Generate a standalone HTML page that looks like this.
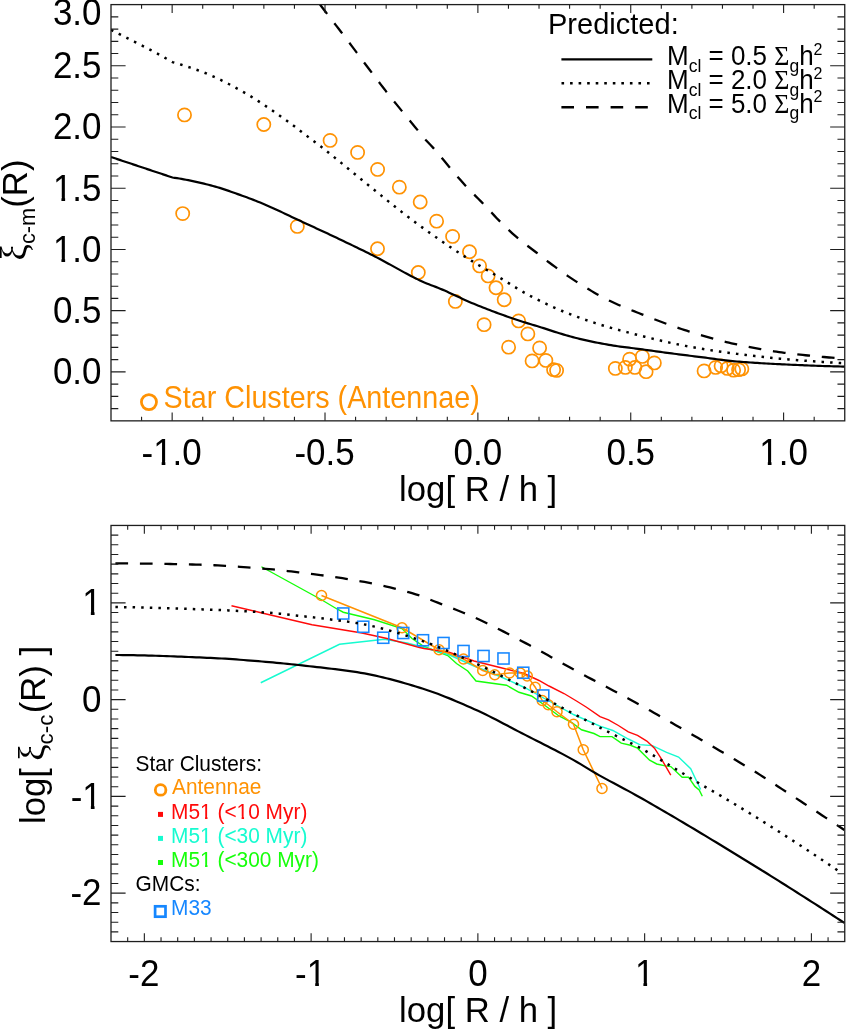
<!DOCTYPE html>
<html><head><meta charset="utf-8"><title>chart</title>
<style>html,body{margin:0;padding:0;background:#fff;}svg{display:block;will-change:transform}</style></head>
<body><svg width="847" height="1031" viewBox="0 0 847 1031">
<rect width="847" height="1031" fill="#fff"/>
<clipPath id="c1"><rect x="111.0" y="4.6" width="733.75" height="416.25"/></clipPath>
<clipPath id="c2"><rect x="111.0" y="525.45" width="733.75" height="416.0999999999999"/></clipPath>
<text transform="translate(52.94,384.18) scale(0.965,1)" font-family="Liberation Sans, sans-serif" font-size="36.2" fill="#000">0.0</text>
<text transform="translate(52.94,322.97) scale(0.965,1)" font-family="Liberation Sans, sans-serif" font-size="36.2" fill="#000">0.5</text>
<text transform="translate(52.94,261.75) scale(0.965,1)" font-family="Liberation Sans, sans-serif" font-size="36.2" fill="#000">1.0</text>
<rect x="53.99" y="258.45" width="7.44" height="4.10" fill="#fff"/>
<rect x="65.12" y="258.45" width="6.29" height="4.10" fill="#fff"/>
<text transform="translate(52.94,200.54) scale(0.965,1)" font-family="Liberation Sans, sans-serif" font-size="36.2" fill="#000">1.5</text>
<rect x="53.99" y="197.24" width="7.44" height="4.10" fill="#fff"/>
<rect x="65.12" y="197.24" width="6.29" height="4.10" fill="#fff"/>
<text transform="translate(52.94,139.33) scale(0.965,1)" font-family="Liberation Sans, sans-serif" font-size="36.2" fill="#000">2.0</text>
<text transform="translate(52.94,78.11) scale(0.965,1)" font-family="Liberation Sans, sans-serif" font-size="36.2" fill="#000">2.5</text>
<text transform="translate(52.94,25.00) scale(0.965,1)" font-family="Liberation Sans, sans-serif" font-size="36.2" fill="#000">3.0</text>
<text transform="translate(141.55,464.50) scale(0.965,1)" font-family="Liberation Sans, sans-serif" font-size="36.2" fill="#000">-1.0</text>
<rect x="154.23" y="461.20" width="7.44" height="4.10" fill="#fff"/>
<rect x="165.36" y="461.20" width="6.29" height="4.10" fill="#fff"/>
<text transform="translate(294.41,464.50) scale(0.965,1)" font-family="Liberation Sans, sans-serif" font-size="36.2" fill="#000">-0.5</text>
<text transform="translate(453.59,464.50) scale(0.965,1)" font-family="Liberation Sans, sans-serif" font-size="36.2" fill="#000">0.0</text>
<text transform="translate(606.46,464.50) scale(0.965,1)" font-family="Liberation Sans, sans-serif" font-size="36.2" fill="#000">0.5</text>
<text transform="translate(759.32,464.50) scale(0.965,1)" font-family="Liberation Sans, sans-serif" font-size="36.2" fill="#000">1.0</text>
<rect x="760.37" y="461.20" width="7.44" height="4.10" fill="#fff"/>
<rect x="771.50" y="461.20" width="6.29" height="4.10" fill="#fff"/>
<text transform="translate(399.07,500.80) scale(0.97,1)" font-family="Liberation Sans, sans-serif" font-size="35.8" fill="#000">log[ R / h ]</text>
<text transform="translate(26.7,260.5) rotate(-90) scale(0.97,1)" font-family="Liberation Sans, sans-serif" font-size="35.8"><tspan font-family="Liberation Serif, serif" font-size="38">ξ</tspan><tspan font-size="22.5" dy="8">c-m</tspan><tspan dy="-8">(R)</tspan></text>
<g fill="none" stroke="#FF9203" stroke-width="1.7">
<circle cx="184.5" cy="114.9" r="6.6"/>
<circle cx="182.7" cy="213.6" r="6.6"/>
<circle cx="263.8" cy="124.5" r="6.6"/>
<circle cx="330.1" cy="140.4" r="6.6"/>
<circle cx="357.6" cy="152.4" r="6.6"/>
<circle cx="377.6" cy="169.4" r="6.6"/>
<circle cx="399.35" cy="187.15" r="6.6"/>
<circle cx="420.2" cy="202" r="6.6"/>
<circle cx="297.3" cy="226.4" r="6.6"/>
<circle cx="377.5" cy="248.8" r="6.6"/>
<circle cx="436.6" cy="221.15" r="6.6"/>
<circle cx="452.6" cy="236.4" r="6.6"/>
<circle cx="469.5" cy="251.8" r="6.6"/>
<circle cx="479.6" cy="265.9" r="6.6"/>
<circle cx="488.1" cy="275.9" r="6.6"/>
<circle cx="496" cy="287.7" r="6.6"/>
<circle cx="504.2" cy="299.8" r="6.6"/>
<circle cx="455.35" cy="301.4" r="6.6"/>
<circle cx="484.1" cy="324.65" r="6.6"/>
<circle cx="518.6" cy="320.9" r="6.6"/>
<circle cx="527.85" cy="333.9" r="6.6"/>
<circle cx="508.6" cy="347.15" r="6.6"/>
<circle cx="539.6" cy="347.9" r="6.6"/>
<circle cx="532.1" cy="360.9" r="6.6"/>
<circle cx="545.85" cy="360.4" r="6.6"/>
<circle cx="553.6" cy="369.65" r="6.6"/>
<circle cx="556.6" cy="370.4" r="6.6"/>
<circle cx="615.35" cy="368.4" r="6.6"/>
<circle cx="625.35" cy="367.4" r="6.6"/>
<circle cx="629.6" cy="359.15" r="6.6"/>
<circle cx="634.85" cy="367.4" r="6.6"/>
<circle cx="418.3" cy="272.5" r="6.6"/>
<circle cx="642.35" cy="356.4" r="6.6"/>
<circle cx="646.1" cy="371.65" r="6.6"/>
<circle cx="654.35" cy="362.9" r="6.6"/>
<circle cx="704.1" cy="370.9" r="6.6"/>
<circle cx="715.6" cy="367.4" r="6.6"/>
<circle cx="721.1" cy="365.9" r="6.6"/>
<circle cx="727.35" cy="368.4" r="6.6"/>
<circle cx="733.6" cy="370.15" r="6.6"/>
<circle cx="738.6" cy="369.65" r="6.6"/>
<circle cx="741.85" cy="368.9" r="6.6"/>
</g>
<g clip-path="url(#c1)" fill="none" stroke="#000">
<path d="M111.00,157.00 L112.58,157.53 L114.15,158.05 L115.73,158.58 L117.31,159.10 L118.88,159.63 L120.46,160.15 L122.04,160.68 L123.62,161.21 L125.19,161.73 L126.77,162.26 L128.35,162.78 L129.92,163.31 L131.50,163.83 L133.08,164.36 L134.65,164.88 L136.23,165.41 L137.81,165.94 L139.38,166.46 L140.96,166.99 L142.54,167.51 L144.12,168.04 L145.69,168.56 L147.27,169.09 L148.85,169.62 L150.42,170.14 L152.00,170.67 L153.58,171.19 L155.15,171.72 L156.73,172.24 L158.31,172.77 L159.88,173.29 L161.46,173.82 L163.04,174.35 L164.62,174.87 L166.19,175.40 L167.77,175.92 L169.35,176.45 L170.92,176.97 L172.50,177.50 L174.75,177.82 L177.00,178.16 L179.25,178.52 L181.50,178.91 L183.75,179.31 L185.99,179.74 L188.24,180.18 L190.49,180.63 L192.74,181.11 L194.99,181.60 L197.24,182.10 L199.49,182.62 L201.74,183.15 L203.99,183.69 L206.24,184.24 L208.49,184.80 L210.74,185.38 L212.98,185.96 L215.23,186.57 L217.48,187.23 L219.73,187.91 L221.98,188.63 L224.23,189.37 L226.48,190.13 L228.73,190.90 L230.98,191.69 L233.23,192.49 L235.48,193.29 L237.73,194.09 L239.97,194.89 L242.22,195.69 L244.47,196.51 L246.72,197.33 L248.97,198.17 L251.22,199.02 L253.47,199.88 L255.72,200.76 L257.97,201.66 L260.22,202.57 L262.47,203.49 L264.72,204.44 L266.96,205.41 L269.21,206.40 L271.46,207.41 L273.71,208.43 L275.96,209.46 L278.21,210.51 L280.46,211.56 L282.71,212.63 L284.96,213.69 L287.21,214.76 L289.46,215.83 L291.71,216.90 L293.95,217.97 L296.20,219.03 L298.45,220.08 L300.70,221.12 L302.95,222.16 L305.20,223.20 L307.45,224.24 L309.70,225.28 L311.95,226.31 L314.20,227.35 L316.45,228.39 L318.70,229.43 L320.94,230.47 L323.19,231.52 L325.44,232.56 L327.69,233.61 L329.94,234.67 L332.19,235.72 L334.44,236.79 L336.69,237.85 L338.94,238.92 L341.19,239.99 L343.44,241.07 L345.69,242.14 L347.93,243.22 L350.18,244.30 L352.43,245.38 L354.68,246.47 L356.93,247.56 L359.18,248.66 L361.43,249.76 L363.68,250.86 L365.93,251.97 L368.18,253.08 L370.43,254.20 L372.68,255.33 L374.92,256.46 L377.17,257.62 L379.42,258.79 L381.67,259.99 L383.92,261.20 L386.17,262.43 L388.42,263.66 L390.67,264.91 L392.92,266.16 L395.17,267.41 L397.42,268.66 L399.67,269.91 L401.91,271.15 L404.16,272.38 L406.41,273.59 L408.66,274.79 L410.91,275.97 L413.16,277.13 L415.41,278.26 L417.66,279.37 L419.91,280.44 L422.16,281.48 L424.41,282.48 L426.66,283.42 L428.90,284.32 L431.15,285.18 L433.40,286.02 L435.65,286.87 L437.90,287.75 L440.15,288.66 L442.40,289.62 L444.65,290.60 L446.90,291.60 L449.15,292.63 L451.40,293.67 L453.65,294.71 L455.89,295.77 L458.14,296.82 L460.39,297.87 L462.64,298.91 L464.89,299.94 L467.14,300.96 L469.39,301.95 L471.64,302.92 L473.89,303.85 L476.14,304.77 L478.39,305.68 L480.64,306.57 L482.88,307.46 L485.13,308.34 L487.38,309.22 L489.63,310.08 L491.88,310.94 L494.13,311.78 L496.38,312.62 L498.63,313.45 L500.88,314.27 L503.13,315.08 L505.38,315.89 L507.63,316.68 L509.87,317.47 L512.12,318.25 L514.37,319.01 L516.62,319.77 L518.87,320.52 L521.12,321.25 L523.37,321.96 L525.62,322.65 L527.87,323.33 L530.12,324.01 L532.37,324.68 L534.62,325.35 L536.86,326.03 L539.11,326.72 L541.36,327.43 L543.61,328.16 L545.86,328.90 L548.11,329.64 L550.36,330.38 L552.61,331.12 L554.86,331.85 L557.11,332.55 L559.36,333.24 L561.61,333.91 L563.85,334.57 L566.10,335.23 L568.35,335.87 L570.60,336.50 L572.85,337.12 L575.10,337.71 L577.35,338.29 L579.60,338.84 L581.85,339.38 L584.10,339.91 L586.35,340.42 L588.60,340.92 L590.84,341.41 L593.09,341.88 L595.34,342.33 L597.59,342.77 L599.84,343.20 L602.09,343.63 L604.34,344.04 L606.59,344.43 L608.84,344.82 L611.09,345.19 L613.34,345.55 L615.59,345.90 L617.83,346.23 L620.08,346.54 L622.33,346.85 L624.58,347.14 L626.83,347.42 L629.08,347.70 L631.33,347.98 L633.58,348.26 L635.83,348.55 L638.08,348.83 L640.33,349.13 L642.58,349.43 L644.82,349.74 L647.07,350.05 L649.32,350.36 L651.57,350.67 L653.82,350.99 L656.07,351.30 L658.32,351.61 L660.57,351.92 L662.82,352.24 L665.07,352.54 L667.32,352.85 L669.57,353.15 L671.81,353.45 L674.06,353.74 L676.31,354.03 L678.56,354.32 L680.81,354.61 L683.06,354.89 L685.31,355.18 L687.56,355.46 L689.81,355.74 L692.06,356.02 L694.31,356.29 L696.56,356.57 L698.80,356.85 L701.05,357.13 L703.30,357.42 L705.55,357.71 L707.80,358.01 L710.05,358.32 L712.30,358.62 L714.55,358.92 L716.80,359.22 L719.05,359.52 L721.30,359.81 L723.55,360.09 L725.79,360.36 L728.04,360.62 L730.29,360.86 L732.54,361.09 L734.79,361.30 L737.04,361.49 L739.29,361.67 L741.54,361.85 L743.79,362.02 L746.04,362.19 L748.29,362.35 L750.54,362.51 L752.78,362.66 L755.03,362.81 L757.28,362.96 L759.53,363.10 L761.78,363.24 L764.03,363.37 L766.28,363.50 L768.53,363.62 L770.78,363.75 L773.03,363.87 L775.28,363.98 L777.53,364.10 L779.77,364.21 L782.02,364.32 L784.27,364.42 L786.52,364.52 L788.77,364.63 L791.02,364.73 L793.27,364.83 L795.52,364.92 L797.77,365.02 L800.02,365.12 L802.27,365.21 L804.52,365.30 L806.76,365.39 L809.01,365.48 L811.26,365.57 L813.51,365.66 L815.76,365.74 L818.01,365.82 L820.26,365.90 L822.51,365.98 L824.76,366.05 L827.01,366.12 L829.26,366.19 L831.51,366.26 L833.75,366.32 L836.00,366.38 L838.25,366.44 L840.50,366.50 L842.75,366.55 L845.00,366.60" stroke-width="2.2"/>
<path d="M111.00,29.90 L112.58,30.68 L114.15,31.46 L115.73,32.24 L117.31,33.03 L118.88,33.81 L120.46,34.60 L122.04,35.39 L123.62,36.18 L125.19,36.97 L126.77,37.77 L128.35,38.57 L129.92,39.37 L131.50,40.17 L133.08,40.97 L134.65,41.77 L136.23,42.58 L137.81,43.38 L139.38,44.19 L140.96,44.99 L142.54,45.80 L144.12,46.61 L145.69,47.42 L147.27,48.24 L148.85,49.06 L150.42,49.88 L152.00,50.71 L153.58,51.54 L155.15,52.38 L156.73,53.23 L158.31,54.08 L159.88,54.95 L161.46,55.82 L163.04,56.70 L164.62,57.58 L166.19,58.47 L167.77,59.37 L169.35,60.28 L170.92,61.19 L172.50,62.10 L174.75,62.74 L177.00,63.39 L179.25,64.06 L181.50,64.75 L183.75,65.46 L185.99,66.18 L188.24,66.92 L190.49,67.67 L192.74,68.43 L194.99,69.22 L197.24,70.02 L199.49,70.84 L201.74,71.69 L203.99,72.56 L206.24,73.46 L208.49,74.39 L210.74,75.35 L212.98,76.33 L215.23,77.35 L217.48,78.38 L219.73,79.44 L221.98,80.53 L224.23,81.65 L226.48,82.81 L228.73,84.00 L230.98,85.21 L233.23,86.44 L235.48,87.67 L237.73,88.90 L239.97,90.15 L242.22,91.41 L244.47,92.68 L246.72,93.98 L248.97,95.30 L251.22,96.66 L253.47,98.04 L255.72,99.46 L257.97,100.90 L260.22,102.37 L262.47,103.85 L264.72,105.34 L266.96,106.85 L269.21,108.36 L271.46,109.90 L273.71,111.45 L275.96,113.02 L278.21,114.59 L280.46,116.18 L282.71,117.78 L284.96,119.39 L287.21,121.02 L289.46,122.66 L291.71,124.32 L293.95,125.99 L296.20,127.69 L298.45,129.42 L300.70,131.16 L302.95,132.91 L305.20,134.64 L307.45,136.37 L309.70,138.07 L311.95,139.75 L314.20,141.43 L316.45,143.13 L318.70,144.84 L320.94,146.58 L323.19,148.34 L325.44,150.12 L327.69,151.91 L329.94,153.72 L332.19,155.53 L334.44,157.36 L336.69,159.19 L338.94,161.03 L341.19,162.87 L343.44,164.72 L345.69,166.58 L347.93,168.43 L350.18,170.29 L352.43,172.14 L354.68,173.99 L356.93,175.84 L359.18,177.68 L361.43,179.51 L363.68,181.34 L365.93,183.16 L368.18,184.97 L370.43,186.78 L372.68,188.60 L374.92,190.42 L377.17,192.25 L379.42,194.08 L381.67,195.90 L383.92,197.73 L386.17,199.55 L388.42,201.37 L390.67,203.19 L392.92,205.00 L395.17,206.80 L397.42,208.59 L399.67,210.37 L401.91,212.14 L404.16,213.89 L406.41,215.63 L408.66,217.36 L410.91,219.06 L413.16,220.75 L415.41,222.42 L417.66,224.08 L419.91,225.73 L422.16,227.37 L424.41,229.00 L426.66,230.62 L428.90,232.24 L431.15,233.84 L433.40,235.43 L435.65,237.01 L437.90,238.59 L440.15,240.15 L442.40,241.70 L444.65,243.25 L446.90,244.78 L449.15,246.30 L451.40,247.81 L453.65,249.31 L455.89,250.80 L458.14,252.28 L460.39,253.75 L462.64,255.20 L464.89,256.65 L467.14,258.07 L469.39,259.47 L471.64,260.86 L473.89,262.24 L476.14,263.60 L478.39,264.95 L480.64,266.29 L482.88,267.63 L485.13,268.96 L487.38,270.29 L489.63,271.62 L491.88,272.95 L494.13,274.29 L496.38,275.63 L498.63,276.98 L500.88,278.34 L503.13,279.72 L505.38,281.11 L507.63,282.50 L509.87,283.91 L512.12,285.30 L514.37,286.70 L516.62,288.07 L518.87,289.44 L521.12,290.78 L523.37,292.09 L525.62,293.37 L527.87,294.62 L530.12,295.82 L532.37,297.00 L534.62,298.16 L536.86,299.31 L539.11,300.44 L541.36,301.55 L543.61,302.65 L545.86,303.73 L548.11,304.79 L550.36,305.84 L552.61,306.86 L554.86,307.87 L557.11,308.85 L559.36,309.82 L561.61,310.77 L563.85,311.69 L566.10,312.60 L568.35,313.49 L570.60,314.37 L572.85,315.23 L575.10,316.08 L577.35,316.91 L579.60,317.73 L581.85,318.53 L584.10,319.33 L586.35,320.10 L588.60,320.87 L590.84,321.62 L593.09,322.36 L595.34,323.09 L597.59,323.81 L599.84,324.51 L602.09,325.20 L604.34,325.88 L606.59,326.55 L608.84,327.21 L611.09,327.86 L613.34,328.50 L615.59,329.13 L617.83,329.75 L620.08,330.36 L622.33,330.96 L624.58,331.56 L626.83,332.15 L629.08,332.74 L631.33,333.31 L633.58,333.89 L635.83,334.46 L638.08,335.03 L640.33,335.60 L642.58,336.16 L644.82,336.73 L647.07,337.29 L649.32,337.85 L651.57,338.40 L653.82,338.96 L656.07,339.50 L658.32,340.04 L660.57,340.57 L662.82,341.10 L665.07,341.62 L667.32,342.13 L669.57,342.64 L671.81,343.13 L674.06,343.62 L676.31,344.09 L678.56,344.55 L680.81,345.00 L683.06,345.44 L685.31,345.87 L687.56,346.29 L689.81,346.70 L692.06,347.10 L694.31,347.49 L696.56,347.88 L698.80,348.26 L701.05,348.64 L703.30,349.01 L705.55,349.37 L707.80,349.73 L710.05,350.08 L712.30,350.43 L714.55,350.77 L716.80,351.10 L719.05,351.43 L721.30,351.76 L723.55,352.07 L725.79,352.39 L728.04,352.70 L730.29,353.00 L732.54,353.30 L734.79,353.59 L737.04,353.88 L739.29,354.17 L741.54,354.45 L743.79,354.73 L746.04,355.01 L748.29,355.29 L750.54,355.56 L752.78,355.82 L755.03,356.09 L757.28,356.34 L759.53,356.60 L761.78,356.85 L764.03,357.10 L766.28,357.34 L768.53,357.58 L770.78,357.81 L773.03,358.04 L775.28,358.26 L777.53,358.48 L779.77,358.69 L782.02,358.90 L784.27,359.10 L786.52,359.30 L788.77,359.49 L791.02,359.67 L793.27,359.85 L795.52,360.03 L797.77,360.21 L800.02,360.38 L802.27,360.54 L804.52,360.71 L806.76,360.87 L809.01,361.03 L811.26,361.18 L813.51,361.33 L815.76,361.49 L818.01,361.64 L820.26,361.79 L822.51,361.93 L824.76,362.08 L827.01,362.23 L829.26,362.38 L831.51,362.52 L833.75,362.67 L836.00,362.82 L838.25,362.97 L840.50,363.11 L842.75,363.26 L845.00,363.40" stroke-width="2.5" stroke-dasharray="2.5 6.1"/>
<path d="M320.00,4.50 L322.64,8.00 L325.28,11.49 L327.91,14.94 L330.55,18.36 L333.19,21.75 L335.83,25.13 L338.47,28.52 L341.11,31.93 L343.74,35.38 L346.38,38.86 L349.02,42.36 L351.66,45.88 L354.30,49.40 L356.93,52.91 L359.57,56.43 L362.21,59.96 L364.85,63.49 L367.49,67.02 L370.13,70.52 L372.76,74.01 L375.40,77.47 L378.04,80.93 L380.68,84.37 L383.32,87.78 L385.95,91.17 L388.59,94.52 L391.23,97.83 L393.87,101.11 L396.51,104.38 L399.15,107.63 L401.78,110.87 L404.42,114.11 L407.06,117.32 L409.70,120.52 L412.34,123.71 L414.97,126.92 L417.61,130.14 L420.25,133.43 L422.89,136.69 L425.53,139.72 L428.17,142.54 L430.80,145.29 L433.44,148.13 L436.08,151.13 L438.72,154.24 L441.36,157.41 L443.99,160.60 L446.63,163.79 L449.27,166.94 L451.91,170.04 L454.55,173.15 L457.19,176.26 L459.82,179.32 L462.46,182.34 L465.10,185.27 L467.74,188.10 L470.38,190.83 L473.02,193.49 L475.65,196.11 L478.29,198.73 L480.93,201.38 L483.57,204.08 L486.21,206.86 L488.84,209.70 L491.48,212.55 L494.12,215.40 L496.76,218.19 L499.40,220.90 L502.04,223.51 L504.67,226.10 L507.31,228.64 L509.95,231.13 L512.59,233.56 L515.23,235.92 L517.86,238.21 L520.50,240.41 L523.14,242.51 L525.78,244.53 L528.42,246.52 L531.06,248.49 L533.69,250.47 L536.33,252.48 L538.97,254.56 L541.61,256.67 L544.25,258.76 L546.88,260.79 L549.52,262.77 L552.16,264.74 L554.80,266.69 L557.44,268.63 L560.08,270.54 L562.71,272.43 L565.35,274.29 L567.99,276.11 L570.63,277.90 L573.27,279.66 L575.90,281.37 L578.54,283.05 L581.18,284.71 L583.82,286.35 L586.46,287.97 L589.10,289.57 L591.73,291.13 L594.37,292.67 L597.01,294.18 L599.65,295.64 L602.29,297.07 L604.92,298.45 L607.56,299.79 L610.20,301.08 L612.84,302.32 L615.48,303.52 L618.12,304.69 L620.75,305.82 L623.39,306.92 L626.03,308.00 L628.67,309.07 L631.31,310.13 L633.94,311.18 L636.58,312.23 L639.22,313.28 L641.86,314.33 L644.50,315.38 L647.14,316.42 L649.77,317.45 L652.41,318.48 L655.05,319.50 L657.69,320.52 L660.33,321.52 L662.96,322.51 L665.60,323.48 L668.24,324.45 L670.88,325.40 L673.52,326.33 L676.16,327.25 L678.79,328.15 L681.43,329.03 L684.07,329.89 L686.71,330.72 L689.35,331.55 L691.98,332.37 L694.62,333.19 L697.26,333.99 L699.90,334.79 L702.54,335.57 L705.18,336.35 L707.81,337.11 L710.45,337.86 L713.09,338.59 L715.73,339.31 L718.37,340.02 L721.01,340.70 L723.64,341.37 L726.28,342.02 L728.92,342.66 L731.56,343.27 L734.20,343.86 L736.83,344.43 L739.47,344.98 L742.11,345.53 L744.75,346.07 L747.39,346.60 L750.03,347.12 L752.66,347.63 L755.30,348.12 L757.94,348.61 L760.58,349.08 L763.22,349.54 L765.85,349.99 L768.49,350.43 L771.13,350.86 L773.77,351.27 L776.41,351.67 L779.05,352.05 L781.68,352.42 L784.32,352.78 L786.96,353.12 L789.60,353.45 L792.24,353.77 L794.87,354.08 L797.51,354.39 L800.15,354.68 L802.79,354.96 L805.43,355.24 L808.07,355.51 L810.70,355.77 L813.34,356.03 L815.98,356.28 L818.62,356.53 L821.26,356.78 L823.89,357.02 L826.53,357.25 L829.17,357.49 L831.81,357.72 L834.45,357.95 L837.09,358.18 L839.72,358.39 L842.36,358.60 L845.00,358.80" stroke-width="2.3000000000000003" stroke-dasharray="12.8 11.8" stroke-dashoffset="1"/>
</g>
<circle cx="148.95" cy="402.1" r="7.55" fill="none" stroke="#FF9203" stroke-width="2.75"/>
<text transform="translate(163.60,408.30) scale(0.921,1)" font-family="Liberation Sans, sans-serif" font-size="31.2" fill="#FF9203">Star Clusters (Antennae)</text>
<text transform="translate(548.00,33.75) scale(0.968,1)" font-family="Liberation Sans, sans-serif" font-size="30" fill="#000">Predicted:</text>
<path d="M561.4,59.35 H652.3" stroke="#000" stroke-width="2.45"/>
<path d="M561.5,83.2 H652" stroke="#000" stroke-width="2.6" stroke-dasharray="2.6 5.95"/>
<path d="M561.4,107.25 H648" stroke="#000" stroke-width="2.45" stroke-dasharray="12.6 12"/>
<text transform="translate(667,65.4) scale(0.942,1)" font-family="Liberation Sans, sans-serif" font-size="27.6">M<tspan font-size="18.6" dy="6.2">cl</tspan><tspan dy="-6.2"> = 0.5 </tspan><tspan font-family="Liberation Serif, serif">Σ</tspan><tspan font-size="18.6" dy="6.2">g</tspan><tspan dy="-6.2">h</tspan><tspan font-size="17" dy="-10.6">2</tspan></text>
<text transform="translate(667,89.3) scale(0.942,1)" font-family="Liberation Sans, sans-serif" font-size="27.6">M<tspan font-size="18.6" dy="6.2">cl</tspan><tspan dy="-6.2"> = 2.0 </tspan><tspan font-family="Liberation Serif, serif">Σ</tspan><tspan font-size="18.6" dy="6.2">g</tspan><tspan dy="-6.2">h</tspan><tspan font-size="17" dy="-10.6">2</tspan></text>
<text transform="translate(667,113.0) scale(0.942,1)" font-family="Liberation Sans, sans-serif" font-size="27.6">M<tspan font-size="18.6" dy="6.2">cl</tspan><tspan dy="-6.2"> = 5.0 </tspan><tspan font-family="Liberation Serif, serif">Σ</tspan><tspan font-size="18.6" dy="6.2">g</tspan><tspan dy="-6.2">h</tspan><tspan font-size="17" dy="-10.6">2</tspan></text>
<rect x="111.0" y="4.6" width="733.75" height="416.25" fill="none" stroke="#1e1e1e" stroke-width="1.3"/>
<path d="M172.15,420.85 v-8.3 M172.15,4.6 v8.3 M325.01,420.85 v-8.3 M325.01,4.6 v8.3 M477.88,420.85 v-8.3 M477.88,4.6 v8.3 M630.74,420.85 v-8.3 M630.74,4.6 v8.3 M783.60,420.85 v-8.3 M783.60,4.6 v8.3 M141.57,420.85 v-4.2 M141.57,4.6 v4.2 M202.72,420.85 v-4.2 M202.72,4.6 v4.2 M233.29,420.85 v-4.2 M233.29,4.6 v4.2 M263.86,420.85 v-4.2 M263.86,4.6 v4.2 M294.44,420.85 v-4.2 M294.44,4.6 v4.2 M355.58,420.85 v-4.2 M355.58,4.6 v4.2 M386.16,420.85 v-4.2 M386.16,4.6 v4.2 M416.73,420.85 v-4.2 M416.73,4.6 v4.2 M447.30,420.85 v-4.2 M447.30,4.6 v4.2 M508.45,420.85 v-4.2 M508.45,4.6 v4.2 M539.02,420.85 v-4.2 M539.02,4.6 v4.2 M569.59,420.85 v-4.2 M569.59,4.6 v4.2 M600.17,420.85 v-4.2 M600.17,4.6 v4.2 M661.31,420.85 v-4.2 M661.31,4.6 v4.2 M691.89,420.85 v-4.2 M691.89,4.6 v4.2 M722.46,420.85 v-4.2 M722.46,4.6 v4.2 M753.03,420.85 v-4.2 M753.03,4.6 v4.2 M814.18,420.85 v-4.2 M814.18,4.6 v4.2 " stroke="#1e1e1e" stroke-width="1.1" fill="none"/>
<path d="M111.0,371.88 h14.6 M844.75,371.88 h-14.6 M111.0,310.67 h14.6 M844.75,310.67 h-14.6 M111.0,249.45 h14.6 M844.75,249.45 h-14.6 M111.0,188.24 h14.6 M844.75,188.24 h-14.6 M111.0,127.03 h14.6 M844.75,127.03 h-14.6 M111.0,65.81 h14.6 M844.75,65.81 h-14.6 M111.0,408.61 h7.3 M844.75,408.61 h-7.3 M111.0,396.36 h7.3 M844.75,396.36 h-7.3 M111.0,384.12 h7.3 M844.75,384.12 h-7.3 M111.0,359.64 h7.3 M844.75,359.64 h-7.3 M111.0,347.39 h7.3 M844.75,347.39 h-7.3 M111.0,335.15 h7.3 M844.75,335.15 h-7.3 M111.0,322.91 h7.3 M844.75,322.91 h-7.3 M111.0,298.42 h7.3 M844.75,298.42 h-7.3 M111.0,286.18 h7.3 M844.75,286.18 h-7.3 M111.0,273.94 h7.3 M844.75,273.94 h-7.3 M111.0,261.70 h7.3 M844.75,261.70 h-7.3 M111.0,237.21 h7.3 M844.75,237.21 h-7.3 M111.0,224.97 h7.3 M844.75,224.97 h-7.3 M111.0,212.72 h7.3 M844.75,212.72 h-7.3 M111.0,200.48 h7.3 M844.75,200.48 h-7.3 M111.0,176.00 h7.3 M844.75,176.00 h-7.3 M111.0,163.75 h7.3 M844.75,163.75 h-7.3 M111.0,151.51 h7.3 M844.75,151.51 h-7.3 M111.0,139.27 h7.3 M844.75,139.27 h-7.3 M111.0,114.78 h7.3 M844.75,114.78 h-7.3 M111.0,102.54 h7.3 M844.75,102.54 h-7.3 M111.0,90.30 h7.3 M844.75,90.30 h-7.3 M111.0,78.06 h7.3 M844.75,78.06 h-7.3 M111.0,53.57 h7.3 M844.75,53.57 h-7.3 M111.0,41.33 h7.3 M844.75,41.33 h-7.3 M111.0,29.09 h7.3 M844.75,29.09 h-7.3 M111.0,16.84 h7.3 M844.75,16.84 h-7.3 " stroke="#1e1e1e" stroke-width="1.1" fill="none"/>
<text transform="translate(70.44,905.47) scale(0.965,1)" font-family="Liberation Sans, sans-serif" font-size="36.2" fill="#000">-2</text>
<text transform="translate(70.74,808.70) scale(0.965,1)" font-family="Liberation Sans, sans-serif" font-size="36.2" fill="#000">-1</text>
<rect x="83.42" y="805.39" width="7.44" height="4.10" fill="#fff"/>
<rect x="94.55" y="805.39" width="6.29" height="4.10" fill="#fff"/>
<text transform="translate(82.07,711.93) scale(0.965,1)" font-family="Liberation Sans, sans-serif" font-size="36.2" fill="#000">0</text>
<text transform="translate(82.37,615.16) scale(0.965,1)" font-family="Liberation Sans, sans-serif" font-size="36.2" fill="#000">1</text>
<rect x="83.42" y="611.86" width="7.44" height="4.10" fill="#fff"/>
<rect x="94.55" y="611.86" width="6.29" height="4.10" fill="#fff"/>
<text transform="translate(128.32,985.50) scale(0.965,1)" font-family="Liberation Sans, sans-serif" font-size="36.2" fill="#000">-2</text>
<text transform="translate(295.08,985.50) scale(0.965,1)" font-family="Liberation Sans, sans-serif" font-size="36.2" fill="#000">-1</text>
<rect x="307.76" y="982.20" width="7.44" height="4.10" fill="#fff"/>
<rect x="318.89" y="982.20" width="6.29" height="4.10" fill="#fff"/>
<text transform="translate(468.16,985.50) scale(0.965,1)" font-family="Liberation Sans, sans-serif" font-size="36.2" fill="#000">0</text>
<text transform="translate(634.92,985.50) scale(0.965,1)" font-family="Liberation Sans, sans-serif" font-size="36.2" fill="#000">1</text>
<rect x="635.97" y="982.20" width="7.44" height="4.10" fill="#fff"/>
<rect x="647.10" y="982.20" width="6.29" height="4.10" fill="#fff"/>
<text transform="translate(801.68,985.50) scale(0.965,1)" font-family="Liberation Sans, sans-serif" font-size="36.2" fill="#000">2</text>
<text transform="translate(399.07,1021.80) scale(0.97,1)" font-family="Liberation Sans, sans-serif" font-size="35.8" fill="#000">log[ R / h ]</text>
<text transform="translate(45,824) rotate(-90) scale(0.97,1)" font-family="Liberation Sans, sans-serif" font-size="35.8">log[ <tspan font-family="Liberation Serif, serif" font-size="38" dx="-2.5">ξ</tspan><tspan font-size="23" dy="8">c-c</tspan><tspan dy="-8" dx="1.4">(R) ]</tspan></text>
<g clip-path="url(#c2)" fill="none">
<path d="M261.40,566.75 L321.50,599.75 L337.00,609.00 L343.25,612.25 L374.50,619.75 L402.00,628.50 L412.00,638.50 L424.00,646.50 L447.75,655.50 L456.50,663.50 L467.75,671.00 L476.00,681.00 L506.50,685.25 L519.00,692.25 L531.50,696.00 L544.00,704.75 L559.00,716.00 L571.50,722.25 L581.50,729.75 L594.00,733.50 L600.00,736.60 L612.00,736.60 L621.30,743.20 L630.50,745.30 L637.50,748.20 L649.60,760.20 L656.70,764.00 L665.20,765.90 L670.80,766.60 L682.20,777.20 L688.50,777.20 L694.90,786.40 L699.20,790.00 L702.30,796.30" stroke="#16FF0A" stroke-width="1.42"/>
<path d="M260.75,682.75 L339.50,644.25 L384.50,639.25 L407.00,643.00 L424.00,647.50 L449.00,654.75 L474.00,666.00 L499.00,676.00 L524.00,687.25 L549.00,701.00 L574.00,714.75 L600.00,726.20 L612.80,730.50 L628.30,739.00 L639.70,744.60 L652.40,745.60 L666.60,752.40 L678.60,757.00 L690.70,768.70 L700.60,789.50" stroke="#16FBD0" stroke-width="1.42"/>
<path d="M231.50,605.70 L262.00,613.00 L312.00,624.75 L362.00,633.00 L387.00,638.50 L419.50,647.50 L424.00,648.50 L449.00,652.25 L474.00,661.00 L499.00,667.25 L524.00,673.50 L539.00,680.50 L549.00,686.00 L564.00,693.50 L576.50,701.00 L586.50,707.25 L600.00,716.70 L608.50,719.80 L618.40,725.50 L628.30,731.90 L637.50,735.40 L646.80,741.10 L654.50,748.20 L660.90,758.10 L670.80,775.10" stroke="#FF0A0A" stroke-width="1.42"/>
<path d="M321.50,595.50 L402.00,627.75 L439.00,649.75 L463.50,659.00 L482.75,670.50 L494.75,674.75 L509.50,673.00 L520.25,673.00 L527.25,676.00 L535.25,687.25 L542.25,700.50 L548.25,704.75 L557.00,711.75 L573.50,724.25 L583.25,749.75 L602.00,788.50" stroke="#FF9203" stroke-width="1.52"/>
<circle cx="321.5" cy="595.5" r="5.05" stroke="#FF9203" stroke-width="1.5"/>
<circle cx="402" cy="627.75" r="5.05" stroke="#FF9203" stroke-width="1.5"/>
<circle cx="439" cy="649.75" r="5.05" stroke="#FF9203" stroke-width="1.5"/>
<circle cx="463.5" cy="659" r="5.05" stroke="#FF9203" stroke-width="1.5"/>
<circle cx="482.75" cy="670.5" r="5.05" stroke="#FF9203" stroke-width="1.5"/>
<circle cx="494.75" cy="674.75" r="5.05" stroke="#FF9203" stroke-width="1.5"/>
<circle cx="509.5" cy="673" r="5.05" stroke="#FF9203" stroke-width="1.5"/>
<circle cx="520.25" cy="673" r="5.05" stroke="#FF9203" stroke-width="1.5"/>
<circle cx="527.25" cy="676" r="5.05" stroke="#FF9203" stroke-width="1.5"/>
<circle cx="535.25" cy="687.25" r="5.05" stroke="#FF9203" stroke-width="1.5"/>
<circle cx="542.25" cy="700.5" r="5.05" stroke="#FF9203" stroke-width="1.5"/>
<circle cx="548.25" cy="704.75" r="5.05" stroke="#FF9203" stroke-width="1.5"/>
<circle cx="557" cy="711.75" r="5.05" stroke="#FF9203" stroke-width="1.5"/>
<circle cx="573.5" cy="724.25" r="5.05" stroke="#FF9203" stroke-width="1.5"/>
<circle cx="583.25" cy="749.75" r="5.05" stroke="#FF9203" stroke-width="1.5"/>
<circle cx="602" cy="788.5" r="5.05" stroke="#FF9203" stroke-width="1.5"/>
<rect x="337.7" y="607.95" width="11.1" height="11.1" stroke="#1687FF" stroke-width="1.55"/>
<rect x="357.7" y="621.2" width="11.1" height="11.1" stroke="#1687FF" stroke-width="1.55"/>
<rect x="377.7" y="632.2" width="11.1" height="11.1" stroke="#1687FF" stroke-width="1.55"/>
<rect x="397.7" y="627.45" width="11.1" height="11.1" stroke="#1687FF" stroke-width="1.55"/>
<rect x="417.45" y="634.7" width="11.1" height="11.1" stroke="#1687FF" stroke-width="1.55"/>
<rect x="437.95" y="637.45" width="11.1" height="11.1" stroke="#1687FF" stroke-width="1.55"/>
<rect x="457.95" y="645.45" width="11.1" height="11.1" stroke="#1687FF" stroke-width="1.55"/>
<rect x="477.95" y="650.45" width="11.1" height="11.1" stroke="#1687FF" stroke-width="1.55"/>
<rect x="497.95" y="652.95" width="11.1" height="11.1" stroke="#1687FF" stroke-width="1.55"/>
<rect x="517.7" y="667.2" width="11.1" height="11.1" stroke="#1687FF" stroke-width="1.55"/>
<rect x="537.7" y="689.95" width="11.1" height="11.1" stroke="#1687FF" stroke-width="1.55"/>
<path d="M115.40,655.00 L119.06,655.02 L122.73,655.06 L126.39,655.10 L130.05,655.16 L133.71,655.22 L137.38,655.29 L141.04,655.37 L144.70,655.46 L148.37,655.55 L152.03,655.66 L155.69,655.76 L159.35,655.88 L163.02,656.00 L166.68,656.13 L170.34,656.26 L174.01,656.39 L177.67,656.54 L181.33,656.68 L184.99,656.83 L188.66,656.98 L192.32,657.13 L195.98,657.29 L199.64,657.45 L203.31,657.61 L206.97,657.78 L210.63,657.94 L214.30,658.11 L217.96,658.29 L221.62,658.50 L225.28,658.72 L228.95,658.95 L232.61,659.20 L236.27,659.46 L239.94,659.73 L243.60,660.01 L247.26,660.30 L250.92,660.59 L254.59,660.89 L258.25,661.19 L261.91,661.49 L265.58,661.80 L269.24,662.12 L272.90,662.45 L276.56,662.79 L280.23,663.14 L283.89,663.50 L287.55,663.86 L291.22,664.24 L294.88,664.62 L298.54,665.01 L302.20,665.41 L305.87,665.81 L309.53,666.22 L313.19,666.63 L316.85,667.05 L320.52,667.46 L324.18,667.87 L327.84,668.29 L331.51,668.72 L335.17,669.16 L338.83,669.62 L342.49,670.09 L346.16,670.58 L349.82,671.09 L353.48,671.63 L357.15,672.20 L360.81,672.80 L364.47,673.43 L368.13,674.12 L371.80,674.85 L375.46,675.63 L379.12,676.45 L382.79,677.32 L386.45,678.22 L390.11,679.15 L393.77,680.12 L397.44,681.12 L401.10,682.15 L404.76,683.20 L408.43,684.28 L412.09,685.38 L415.75,686.50 L419.41,687.64 L423.08,688.79 L426.74,689.97 L430.40,691.20 L434.06,692.49 L437.73,693.83 L441.39,695.22 L445.05,696.65 L448.72,698.12 L452.38,699.63 L456.04,701.16 L459.70,702.72 L463.37,704.31 L467.03,705.91 L470.69,707.53 L474.36,709.16 L478.02,710.83 L481.68,712.55 L485.34,714.32 L489.01,716.13 L492.67,717.97 L496.33,719.85 L500.00,721.75 L503.66,723.66 L507.32,725.59 L510.98,727.51 L514.65,729.44 L518.31,731.36 L521.97,733.26 L525.64,735.14 L529.30,737.00 L532.96,738.86 L536.62,740.72 L540.29,742.57 L543.95,744.43 L547.61,746.29 L551.27,748.16 L554.94,750.06 L558.60,751.97 L562.26,753.90 L565.93,755.86 L569.59,757.85 L573.25,759.88 L576.91,761.97 L580.58,764.15 L584.24,766.38 L587.90,768.62 L591.57,770.85 L595.23,773.02 L598.89,775.11 L602.55,777.15 L606.22,779.15 L609.88,781.12 L613.54,783.08 L617.21,785.02 L620.87,786.97 L624.53,788.92 L628.19,790.90 L631.86,792.89 L635.52,794.93 L639.18,797.00 L642.85,799.07 L646.51,801.16 L650.17,803.25 L653.83,805.36 L657.50,807.47 L661.16,809.60 L664.82,811.73 L668.48,813.87 L672.15,816.02 L675.81,818.17 L679.47,820.34 L683.14,822.51 L686.80,824.68 L690.46,826.87 L694.12,829.05 L697.79,831.25 L701.45,833.45 L705.11,835.66 L708.78,837.87 L712.44,840.08 L716.10,842.30 L719.76,844.53 L723.43,846.75 L727.09,848.98 L730.75,851.22 L734.42,853.45 L738.08,855.69 L741.74,857.94 L745.40,860.19 L749.07,862.44 L752.73,864.70 L756.39,866.97 L760.06,869.24 L763.72,871.52 L767.38,873.80 L771.04,876.08 L774.71,878.38 L778.37,880.67 L782.03,882.98 L785.69,885.28 L789.36,887.59 L793.02,889.91 L796.68,892.24 L800.35,894.56 L804.01,896.90 L807.67,899.23 L811.33,901.58 L815.00,903.93 L818.66,906.28 L822.32,908.64 L825.99,911.00 L829.65,913.37 L833.31,915.75 L836.97,918.13 L840.64,920.51 L844.30,922.90" stroke="#000" stroke-width="2.2"/>
<path d="M115.40,607.00 L119.05,607.05 L122.70,607.11 L126.35,607.18 L130.00,607.25 L133.65,607.32 L137.30,607.40 L140.95,607.49 L144.60,607.57 L148.25,607.67 L151.90,607.76 L155.55,607.86 L159.20,607.96 L162.85,608.07 L166.50,608.18 L170.15,608.29 L173.80,608.41 L177.45,608.53 L181.10,608.65 L184.75,608.77 L188.41,608.90 L192.06,609.02 L195.71,609.15 L199.36,609.28 L203.01,609.42 L206.66,609.55 L210.31,609.69 L213.96,609.82 L217.61,609.97 L221.26,610.11 L224.91,610.26 L228.56,610.42 L232.21,610.59 L235.86,610.76 L239.51,610.94 L243.16,611.13 L246.81,611.33 L250.46,611.53 L254.11,611.75 L257.76,611.97 L261.41,612.21 L265.06,612.46 L268.71,612.74 L272.36,613.04 L276.01,613.37 L279.66,613.71 L283.31,614.07 L286.96,614.44 L290.61,614.83 L294.26,615.23 L297.91,615.64 L301.56,616.05 L305.21,616.47 L308.86,616.89 L312.51,617.31 L316.16,617.73 L319.81,618.15 L323.46,618.57 L327.11,619.00 L330.76,619.44 L334.42,619.89 L338.07,620.35 L341.72,620.84 L345.37,621.34 L349.02,621.87 L352.67,622.43 L356.32,623.02 L359.97,623.64 L363.62,624.30 L367.27,625.02 L370.92,625.79 L374.57,626.62 L378.22,627.51 L381.87,628.44 L385.52,629.42 L389.17,630.44 L392.82,631.49 L396.47,632.58 L400.12,633.71 L403.77,634.86 L407.42,636.03 L411.07,637.23 L414.72,638.44 L418.37,639.67 L422.02,640.91 L425.67,642.17 L429.32,643.48 L432.97,644.85 L436.62,646.28 L440.27,647.75 L443.92,649.27 L447.57,650.82 L451.22,652.41 L454.87,654.02 L458.52,655.66 L462.17,657.31 L465.82,658.97 L469.47,660.64 L473.12,662.30 L476.77,663.97 L480.43,665.67 L484.08,667.40 L487.73,669.15 L491.38,670.92 L495.03,672.72 L498.68,674.53 L502.33,676.36 L505.98,678.20 L509.63,680.05 L513.28,681.91 L516.93,683.78 L520.58,685.65 L524.23,687.52 L527.88,689.40 L531.53,691.31 L535.18,693.23 L538.83,695.17 L542.48,697.12 L546.13,699.09 L549.78,701.05 L553.43,703.02 L557.08,704.99 L560.73,706.95 L564.38,708.91 L568.03,710.85 L571.68,712.78 L575.33,714.70 L578.98,716.61 L582.63,718.52 L586.28,720.42 L589.93,722.33 L593.58,724.23 L597.23,726.13 L600.88,728.02 L604.53,729.90 L608.18,731.78 L611.83,733.65 L615.48,735.51 L619.13,737.36 L622.78,739.20 L626.44,741.02 L630.09,742.83 L633.74,744.57 L637.39,746.43 L641.04,748.39 L644.69,750.42 L648.34,752.50 L651.99,754.64 L655.64,756.81 L659.29,759.01 L662.94,761.23 L666.59,763.47 L670.24,765.71 L673.89,767.94 L677.54,770.16 L681.19,772.36 L684.84,774.57 L688.49,776.80 L692.14,779.04 L695.79,781.27 L699.44,783.48 L703.09,785.64 L706.74,787.76 L710.39,789.84 L714.04,791.92 L717.69,794.03 L721.34,796.18 L724.99,798.34 L728.64,800.51 L732.29,802.70 L735.94,804.89 L739.59,807.09 L743.24,809.31 L746.89,811.54 L750.54,813.78 L754.19,816.04 L757.84,818.31 L761.49,820.60 L765.14,822.90 L768.79,825.20 L772.45,827.51 L776.10,829.84 L779.75,832.17 L783.40,834.51 L787.05,836.86 L790.70,839.21 L794.35,841.58 L798.00,843.96 L801.65,846.34 L805.30,848.74 L808.95,851.15 L812.60,853.57 L816.25,855.99 L819.90,858.43 L823.55,860.88 L827.20,863.34 L830.85,865.81 L834.50,868.30 L838.15,870.79 L841.80,873.30" stroke="#000" stroke-width="2.5" stroke-dasharray="2.5 6.1"/>
<path d="M115.40,563.40 L119.06,563.40 L122.73,563.41 L126.39,563.43 L130.05,563.45 L133.71,563.48 L137.38,563.51 L141.04,563.55 L144.70,563.59 L148.37,563.64 L152.03,563.70 L155.69,563.75 L159.35,563.81 L163.02,563.88 L166.68,563.95 L170.34,564.02 L174.01,564.10 L177.67,564.18 L181.33,564.26 L184.99,564.35 L188.66,564.43 L192.32,564.52 L195.98,564.61 L199.64,564.71 L203.31,564.81 L206.97,564.93 L210.63,565.07 L214.30,565.23 L217.96,565.41 L221.62,565.60 L225.28,565.82 L228.95,566.04 L232.61,566.28 L236.27,566.53 L239.94,566.79 L243.60,567.06 L247.26,567.34 L250.92,567.62 L254.59,567.91 L258.25,568.20 L261.91,568.49 L265.58,568.80 L269.24,569.12 L272.90,569.47 L276.56,569.83 L280.23,570.21 L283.89,570.61 L287.55,571.02 L291.22,571.44 L294.88,571.87 L298.54,572.32 L302.20,572.77 L305.87,573.23 L309.53,573.69 L313.19,574.15 L316.85,574.62 L320.52,575.10 L324.18,575.59 L327.84,576.09 L331.51,576.60 L335.17,577.12 L338.83,577.66 L342.49,578.22 L346.16,578.79 L349.82,579.38 L353.48,579.99 L357.15,580.63 L360.81,581.28 L364.47,581.96 L368.13,582.66 L371.80,583.38 L375.46,584.13 L379.12,584.90 L382.79,585.70 L386.45,586.53 L390.11,587.38 L393.77,588.27 L397.44,589.19 L401.10,590.14 L404.76,591.13 L408.43,592.16 L412.09,593.22 L415.75,594.33 L419.41,595.47 L423.08,596.79 L426.74,598.30 L430.40,599.81 L434.06,601.25 L437.73,602.68 L441.39,604.10 L445.05,605.51 L448.72,606.92 L452.38,608.35 L456.04,609.78 L459.70,611.24 L463.37,612.73 L467.03,614.25 L470.69,615.80 L474.36,617.41 L478.02,619.06 L481.68,620.76 L485.34,622.49 L489.01,624.26 L492.67,626.07 L496.33,627.90 L500.00,629.75 L503.66,631.63 L507.32,633.52 L510.98,635.43 L514.65,637.35 L518.31,639.27 L521.97,641.19 L525.64,643.11 L529.30,645.06 L532.96,647.03 L536.62,649.03 L540.29,651.05 L543.95,653.08 L547.61,655.12 L551.27,657.16 L554.94,659.21 L558.60,661.26 L562.26,663.30 L565.93,665.33 L569.59,667.35 L573.25,669.34 L576.91,671.32 L580.58,673.29 L584.24,675.24 L587.90,677.18 L591.57,679.12 L595.23,681.05 L598.89,682.97 L602.55,684.90 L606.22,686.82 L609.88,688.75 L613.54,690.68 L617.21,692.62 L620.87,694.57 L624.53,696.52 L628.19,698.49 L631.86,700.47 L635.52,702.47 L639.18,704.49 L642.85,706.51 L646.51,708.55 L650.17,710.60 L653.83,712.66 L657.50,714.72 L661.16,716.79 L664.82,718.87 L668.48,720.96 L672.15,723.05 L675.81,725.15 L679.47,727.25 L683.14,729.35 L686.80,731.46 L690.46,733.57 L694.12,735.69 L697.79,737.81 L701.45,739.94 L705.11,742.08 L708.78,744.22 L712.44,746.36 L716.10,748.52 L719.76,750.67 L723.43,752.84 L727.09,755.00 L730.75,757.18 L734.42,759.36 L738.08,761.54 L741.74,763.72 L745.40,765.91 L749.07,768.12 L752.73,770.34 L756.39,772.59 L760.06,774.87 L763.72,777.20 L767.38,779.55 L771.04,781.92 L774.71,784.31 L778.37,786.71 L782.03,789.11 L785.69,791.50 L789.36,793.88 L793.02,796.26 L796.68,798.65 L800.35,801.04 L804.01,803.43 L807.67,805.83 L811.33,808.23 L815.00,810.63 L818.66,813.03 L822.32,815.44 L825.99,817.85 L829.65,820.27 L833.31,822.70 L836.97,825.13 L840.64,827.56 L844.30,830.00" stroke="#000" stroke-width="2.3000000000000003" stroke-dasharray="12.7 11.8"/>
</g>
<text transform="translate(135.60,770.50) scale(0.98,1)" font-family="Liberation Sans, sans-serif" font-size="21.3" fill="#000">Star Clusters:</text>
<circle cx="160.6" cy="789.9" r="5.3" fill="none" stroke="#FF9203" stroke-width="2.8"/>
<text transform="translate(172.00,794.40) scale(0.98,1)" font-family="Liberation Sans, sans-serif" font-size="21.3" fill="#FF9203">Antennae</text>
<rect x="158.0" y="811.9" width="5" height="5" fill="#FF0A0A"/>
<text transform="translate(171.10,818.65) scale(0.98,1)" font-family="Liberation Sans, sans-serif" font-size="21.3" fill="#FF0A0A">M51 (&lt;10 Myr)</text>
<rect x="200.72" y="816.46" width="4.32" height="2.99" fill="#fff"/>
<rect x="207.49" y="816.46" width="3.76" height="2.99" fill="#fff"/>
<rect x="237.27" y="816.46" width="4.32" height="2.99" fill="#fff"/>
<rect x="244.04" y="816.46" width="3.76" height="2.99" fill="#fff"/>
<rect x="158.0" y="835.9" width="5" height="5" fill="#16FBD0"/>
<text transform="translate(171.10,842.65) scale(0.98,1)" font-family="Liberation Sans, sans-serif" font-size="21.3" fill="#16FBD0">M51 (&lt;30 Myr)</text>
<rect x="200.72" y="840.46" width="4.32" height="2.99" fill="#fff"/>
<rect x="207.49" y="840.46" width="3.76" height="2.99" fill="#fff"/>
<rect x="158.0" y="860.0" width="5" height="5" fill="#16FF0A"/>
<text transform="translate(171.10,866.75) scale(0.98,1)" font-family="Liberation Sans, sans-serif" font-size="21.3" fill="#16FF0A">M51 (&lt;300 Myr)</text>
<rect x="200.72" y="864.56" width="4.32" height="2.99" fill="#fff"/>
<rect x="207.49" y="864.56" width="3.76" height="2.99" fill="#fff"/>
<text transform="translate(135.60,890.60) scale(0.98,1)" font-family="Liberation Sans, sans-serif" font-size="21.3" fill="#000">GMCs:</text>
<rect x="155.1" y="906.3" width="10.4" height="10.4" fill="none" stroke="#1687FF" stroke-width="2.7"/>
<text transform="translate(171.10,914.70) scale(0.98,1)" font-family="Liberation Sans, sans-serif" font-size="21.3" fill="#1687FF">M33</text>
<rect x="111.0" y="525.45" width="733.75" height="416.0999999999999" fill="none" stroke="#1e1e1e" stroke-width="1.3"/>
<path d="M144.35,941.55 v-8.3 M144.35,525.45 v8.3 M311.11,941.55 v-8.3 M311.11,525.45 v8.3 M477.88,941.55 v-8.3 M477.88,525.45 v8.3 M644.64,941.55 v-8.3 M644.64,525.45 v8.3 M811.40,941.55 v-8.3 M811.40,525.45 v8.3 M127.68,941.55 v-4.2 M127.68,525.45 v4.2 M161.03,941.55 v-4.2 M161.03,525.45 v4.2 M177.70,941.55 v-4.2 M177.70,525.45 v4.2 M194.38,941.55 v-4.2 M194.38,525.45 v4.2 M211.06,941.55 v-4.2 M211.06,525.45 v4.2 M227.73,941.55 v-4.2 M227.73,525.45 v4.2 M244.41,941.55 v-4.2 M244.41,525.45 v4.2 M261.09,941.55 v-4.2 M261.09,525.45 v4.2 M277.76,941.55 v-4.2 M277.76,525.45 v4.2 M294.44,941.55 v-4.2 M294.44,525.45 v4.2 M327.79,941.55 v-4.2 M327.79,525.45 v4.2 M344.47,941.55 v-4.2 M344.47,525.45 v4.2 M361.14,941.55 v-4.2 M361.14,525.45 v4.2 M377.82,941.55 v-4.2 M377.82,525.45 v4.2 M394.49,941.55 v-4.2 M394.49,525.45 v4.2 M411.17,941.55 v-4.2 M411.17,525.45 v4.2 M427.85,941.55 v-4.2 M427.85,525.45 v4.2 M444.52,941.55 v-4.2 M444.52,525.45 v4.2 M461.20,941.55 v-4.2 M461.20,525.45 v4.2 M494.55,941.55 v-4.2 M494.55,525.45 v4.2 M511.23,941.55 v-4.2 M511.23,525.45 v4.2 M527.90,941.55 v-4.2 M527.90,525.45 v4.2 M544.58,941.55 v-4.2 M544.58,525.45 v4.2 M561.26,941.55 v-4.2 M561.26,525.45 v4.2 M577.93,941.55 v-4.2 M577.93,525.45 v4.2 M594.61,941.55 v-4.2 M594.61,525.45 v4.2 M611.28,941.55 v-4.2 M611.28,525.45 v4.2 M627.96,941.55 v-4.2 M627.96,525.45 v4.2 M661.31,941.55 v-4.2 M661.31,525.45 v4.2 M677.99,941.55 v-4.2 M677.99,525.45 v4.2 M694.66,941.55 v-4.2 M694.66,525.45 v4.2 M711.34,941.55 v-4.2 M711.34,525.45 v4.2 M728.02,941.55 v-4.2 M728.02,525.45 v4.2 M744.69,941.55 v-4.2 M744.69,525.45 v4.2 M761.37,941.55 v-4.2 M761.37,525.45 v4.2 M778.05,941.55 v-4.2 M778.05,525.45 v4.2 M794.72,941.55 v-4.2 M794.72,525.45 v4.2 M828.07,941.55 v-4.2 M828.07,525.45 v4.2 " stroke="#1e1e1e" stroke-width="1.1" fill="none"/>
<path d="M111.0,893.17 h14.6 M844.75,893.17 h-14.6 M111.0,796.40 h14.6 M844.75,796.40 h-14.6 M111.0,699.63 h14.6 M844.75,699.63 h-14.6 M111.0,602.86 h14.6 M844.75,602.86 h-14.6 M111.0,931.87 h7.3 M844.75,931.87 h-7.3 M111.0,922.20 h7.3 M844.75,922.20 h-7.3 M111.0,912.52 h7.3 M844.75,912.52 h-7.3 M111.0,902.84 h7.3 M844.75,902.84 h-7.3 M111.0,883.49 h7.3 M844.75,883.49 h-7.3 M111.0,873.81 h7.3 M844.75,873.81 h-7.3 M111.0,864.14 h7.3 M844.75,864.14 h-7.3 M111.0,854.46 h7.3 M844.75,854.46 h-7.3 M111.0,844.78 h7.3 M844.75,844.78 h-7.3 M111.0,835.11 h7.3 M844.75,835.11 h-7.3 M111.0,825.43 h7.3 M844.75,825.43 h-7.3 M111.0,815.75 h7.3 M844.75,815.75 h-7.3 M111.0,806.08 h7.3 M844.75,806.08 h-7.3 M111.0,786.72 h7.3 M844.75,786.72 h-7.3 M111.0,777.05 h7.3 M844.75,777.05 h-7.3 M111.0,767.37 h7.3 M844.75,767.37 h-7.3 M111.0,757.69 h7.3 M844.75,757.69 h-7.3 M111.0,748.02 h7.3 M844.75,748.02 h-7.3 M111.0,738.34 h7.3 M844.75,738.34 h-7.3 M111.0,728.66 h7.3 M844.75,728.66 h-7.3 M111.0,718.98 h7.3 M844.75,718.98 h-7.3 M111.0,709.31 h7.3 M844.75,709.31 h-7.3 M111.0,689.95 h7.3 M844.75,689.95 h-7.3 M111.0,680.28 h7.3 M844.75,680.28 h-7.3 M111.0,670.60 h7.3 M844.75,670.60 h-7.3 M111.0,660.92 h7.3 M844.75,660.92 h-7.3 M111.0,651.25 h7.3 M844.75,651.25 h-7.3 M111.0,641.57 h7.3 M844.75,641.57 h-7.3 M111.0,631.89 h7.3 M844.75,631.89 h-7.3 M111.0,622.22 h7.3 M844.75,622.22 h-7.3 M111.0,612.54 h7.3 M844.75,612.54 h-7.3 M111.0,593.19 h7.3 M844.75,593.19 h-7.3 M111.0,583.51 h7.3 M844.75,583.51 h-7.3 M111.0,573.83 h7.3 M844.75,573.83 h-7.3 M111.0,564.16 h7.3 M844.75,564.16 h-7.3 M111.0,554.48 h7.3 M844.75,554.48 h-7.3 M111.0,544.80 h7.3 M844.75,544.80 h-7.3 M111.0,535.13 h7.3 M844.75,535.13 h-7.3 " stroke="#1e1e1e" stroke-width="1.1" fill="none"/>
</svg></body></html>
